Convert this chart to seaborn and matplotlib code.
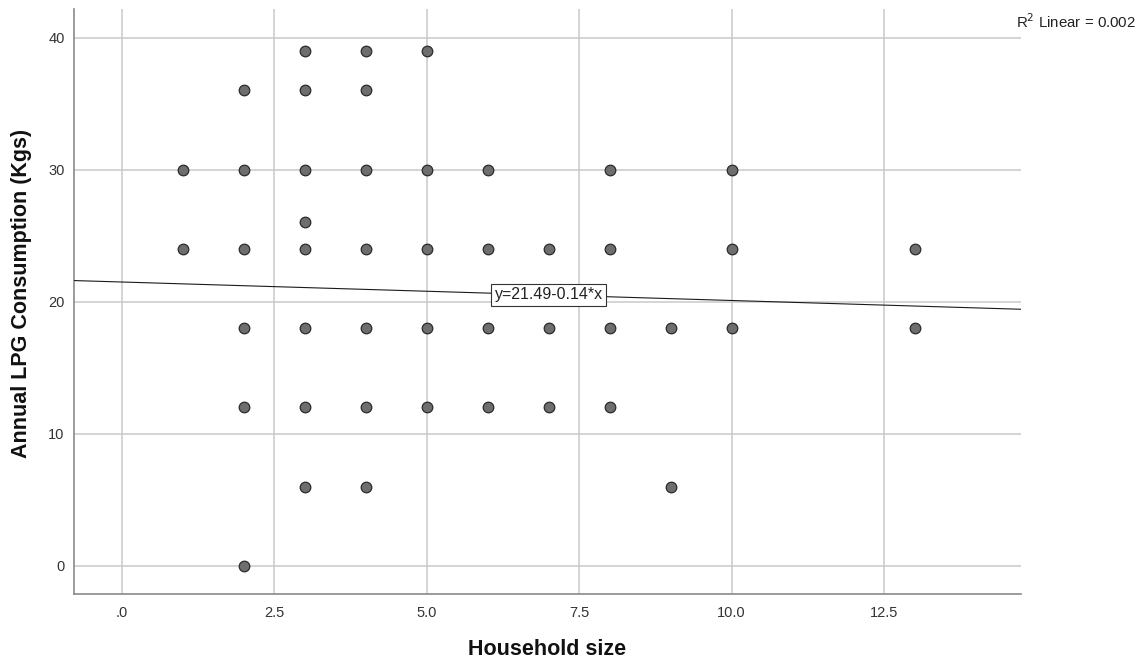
import numpy as np
import pandas as pd
import matplotlib
matplotlib.use("Agg")
import matplotlib.pyplot as plt
import seaborn as sns
from matplotlib.ticker import FuncFormatter

# Household size and annual LPG consumption observations
household_size = [1, 1,
                  2, 2, 2, 2, 2, 2,
                  3, 3, 3, 3, 3, 3, 3, 3,
                  4, 4, 4, 4, 4, 4, 4,
                  5, 5, 5, 5, 5,
                  6, 6, 6, 6,
                  7, 7, 7,
                  8, 8, 8, 8,
                  9, 9,
                  10, 10, 10,
                  13, 13]
lpg_kgs = [30, 24,
           36, 30, 24, 18, 12, 0,
           39, 36, 30, 26, 24, 18, 12, 6,
           39, 36, 30, 24, 18, 12, 6,
           39, 30, 24, 18, 12,
           30, 24, 18, 12,
           24, 18, 12,
           30, 24, 18, 12,
           18, 6,
           30, 24, 18,
           24, 18]

# Fitted linear model
fit_intercept = 21.49
fit_slope = -0.14
r_squared = 0.002

x_ticks = [0, 2.5, 5.0, 7.5, 10.0, 12.5]
y_ticks = [0, 10, 20, 30, 40]

df = pd.DataFrame({"Household size": household_size,
                   "Annual LPG Consumption (Kgs)": lpg_kgs})

sns.set_style("white")
plt.rcParams["font.family"] = ["Liberation Sans", "DejaVu Sans"]

fig = plt.figure(figsize=(11.41, 6.61), dpi=100)
ax = fig.add_axes([0.0651, 0.1014, 0.8295, 0.8850])

xmin, xmax = -0.78, 14.74
ymin, ymax = -2.14, 42.17

sns.scatterplot(data=df, x="Household size", y="Annual LPG Consumption (Kgs)",
                ax=ax, s=58, color="#6e6e6e", edgecolor="#2a2a2a",
                linewidth=0.9, zorder=3)

xs = np.array([xmin, xmax])
ax.plot(xs, fit_intercept + fit_slope * xs, color="#1a1a1a", lw=0.8, zorder=4)

lx = 7.0
ax.text(lx, fit_intercept + fit_slope * lx, f"y={fit_intercept:.2f}{fit_slope:.2f}*x",
        ha="center", va="center", fontsize=11.5, color="#222222", zorder=5,
        bbox=dict(boxstyle="square,pad=0.22", fc="white", ec="#333333", lw=0.8))

ax.set_xlim(xmin, xmax)
ax.set_ylim(ymin, ymax)
ax.set_xticks(x_ticks)
ax.set_yticks(y_ticks)
ax.xaxis.set_major_formatter(FuncFormatter(lambda v, p: ".0" if v == 0 else f"{v:.1f}"))
ax.yaxis.set_major_formatter(FuncFormatter(lambda v, p: f"{v:.0f}"))
ax.tick_params(axis="both", length=0, labelsize=10.5, colors="#333333")
ax.tick_params(axis="x", pad=9)
ax.tick_params(axis="y", pad=7)

ax.grid(True, color="#c9c9c9", lw=1.1, zorder=0)
ax.set_axisbelow(True)
for side in ("top", "right"):
    ax.spines[side].set_visible(False)
for side in ("left", "bottom"):
    ax.spines[side].set_color("#8a8a8a")
    ax.spines[side].set_linewidth(1.2)

ax.set_xlabel("Household size", fontsize=15.5, fontweight="bold", color="#111111")
ax.set_ylabel("Annual LPG Consumption (Kgs)", fontsize=15.5, fontweight="bold", color="#111111")
ax.xaxis.set_label_coords(0.5, -0.077)
ax.yaxis.set_label_coords(-0.0445, 0.513)

fig.text(0.8905, 0.957, f"R$^{{2}}$ Linear = {r_squared:.3f}", fontsize=10.8, color="#222222",
         ha="left", va="baseline")

fig.savefig("out.png", dpi=100)
